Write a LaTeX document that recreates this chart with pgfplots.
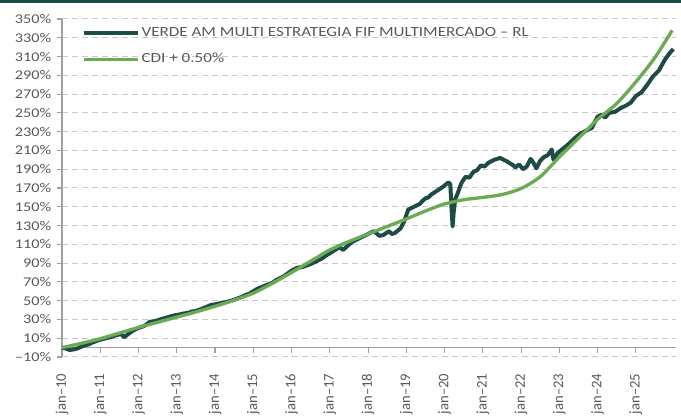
\documentclass[border=0pt]{standalone}
\usepackage{fontspec}
\setmainfont{Carlito}
\usepackage{graphicx}
\usepackage{pgfplots}
\pgfplotsset{compat=1.18}
\definecolor{darkteal}{HTML}{1F4B46}
\definecolor{cdigreen}{HTML}{6AAB54}
\definecolor{txtgray}{HTML}{595959}
\definecolor{gridgray}{HTML}{C8C8C8}
\definecolor{axgray}{HTML}{A0A0A0}
\newcommand\sx[1]{\scalebox{1.22}[1]{#1}}
\begin{document}
\begin{tikzpicture}[x=1pt,y=1pt]
\useasboundingbox (0,0) rectangle (510.75,312);
\fill[darkteal] (0,309.4) rectangle (510.75,312);
\begin{axis}[
  at={(46.5pt,44.25pt)}, anchor=south west,
  scale only axis, width=460.5pt, height=253.5pt,
  xmin=2010, xmax=2026.05, ymin=-10, ymax=350,
  axis y line=left, axis x line=middle,
  axis line style={-, axgray, line width=0.8pt},
  hide obscured x ticks=false,
  ytick={-10,10,30,50,70,90,110,130,150,170,190,210,230,250,270,290,310,330,350},
  yticklabels={{\sx{–10\%}},{\sx{10\%}},{\sx{30\%}},{\sx{50\%}},{\sx{70\%}},{\sx{90\%}},{\sx{110\%}},{\sx{130\%}},{\sx{150\%}},{\sx{170\%}},{\sx{190\%}},{\sx{210\%}},{\sx{230\%}},{\sx{250\%}},{\sx{270\%}},{\sx{290\%}},{\sx{310\%}},{\sx{330\%}},{\sx{350\%}}},
  xtick={2010,2011,2012,2013,2014,2015,2016,2017,2018,2019,2020,2021,2022,2023,2024,2025},
  xticklabels={jan–10,jan–11,jan–12,jan–13,jan–14,jan–15,jan–16,jan–17,jan–18,jan–19,jan–20,jan–21,jan–22,jan–23,jan–24,jan–25},
  ymajorgrids, grid style={gridgray, dash pattern=on 4.5pt off 3pt, line width=0.75pt},
  tick style={axgray, line width=0.8pt},
  tick align=outside, major tick length=4pt,
  tick label style={font=\fontsize{10}{12}\selectfont, text=txtgray},
  yticklabel style={xshift=-0.5pt},
  xticklabel style={rotate=90, anchor=east, font=\fontsize{11}{13}\selectfont},
  xticklabel shift=12pt,
  clip=false,
  legend style={at={(0.0315,0.985)}, anchor=north west, draw=none, fill=none,
    inner sep=0pt, row sep=7.5pt, font=\fontsize{10.5}{12}\selectfont, text=txtgray,
    nodes={inner xsep=1pt}},
  legend cell align=left,
  legend image code/.code={\draw[#1] (0pt,0pt) -- (41pt,0pt);},
]
\addplot[darkteal, line width=3pt, line join=round] coordinates {
(2010.00,0) (2010.10,-1) (2010.20,-2.5) (2010.30,-2.0) (2010.38,-1.2) (2010.45,0) (2010.60,2.5) (2010.70,3.5) (2010.80,5.5)
(2011.00,8.5) (2011.10,9.5) (2011.20,10.5) (2011.30,11.5) (2011.40,13) (2011.55,14.5) (2011.62,11) (2011.70,13.5)
(2011.85,18) (2012.00,21) (2012.15,23) (2012.30,27.5) (2012.40,28) (2012.50,29) (2012.60,30.5) (2012.70,31.5)
(2012.90,34) (2013.10,35.5) (2013.20,36.5) (2013.30,37) (2013.40,38.5) (2013.50,39) (2013.70,42) (2013.90,45.5)
(2014.00,46) (2014.10,47) (2014.30,48.5) (2014.50,51) (2014.70,54) (2014.80,56) (2014.90,57.5) (2015.10,62.5)
(2015.25,65) (2015.40,67.5) (2015.50,69) (2015.60,72) (2015.80,76) (2016.00,82) (2016.15,85)
(2016.30,86) (2016.40,87.5) (2016.50,89) (2016.70,93) (2016.80,95) (2016.90,98) (2017.10,103) (2017.25,107)
(2017.35,104) (2017.45,108) (2017.60,113) (2017.70,115) (2017.80,117) (2018.00,121) (2018.15,124)
(2018.30,119) (2018.40,120) (2018.55,124) (2018.62,121) (2018.70,122) (2018.85,127) (2018.95,135)
(2019.05,147) (2019.20,150) (2019.35,153) (2019.42,156) (2019.50,159) (2019.58,160) (2019.65,163) (2019.80,167)
(2019.95,171) (2020.10,176) (2020.15,174) (2020.18,150) (2020.21,129) (2020.24,145)
(2020.28,158) (2020.35,165) (2020.40,171) (2020.45,176) (2020.55,182) (2020.65,181) (2020.75,187)
(2020.85,189) (2020.95,194) (2021.05,193) (2021.15,197) (2021.30,200) (2021.45,202)
(2021.60,199) (2021.72,196) (2021.80,194) (2021.85,192) (2021.95,195) (2022.05,190) (2022.15,193)
(2022.25,201) (2022.32,197) (2022.40,191) (2022.50,199) (2022.60,203) (2022.70,205)
(2022.80,211) (2022.85,200) (2022.95,207) (2023.10,212) (2023.25,217) (2023.40,223)
(2023.55,228) (2023.70,231) (2023.85,234) (2024.00,246) (2024.10,248) (2024.20,245)
(2024.30,250) (2024.45,251) (2024.60,255) (2024.75,258) (2024.87,261) (2025.00,268)
(2025.15,272) (2025.30,280) (2025.45,289) (2025.60,295) (2025.75,306) (2025.87,313)
(2025.98,318)
};
\addlegendentry{\sx{VERDE AM MULTI ESTRATEGIA FIF MULTIMERCADO – RL}}
\addplot[cdigreen, line width=2.5pt, smooth, tension=0.5] coordinates {
(2010,0) (2010.5,4.5) (2011,9.5) (2011.5,15.5) (2012,21.5) (2012.5,27) (2013,32.5)
(2013.5,38) (2014,44) (2014.5,50.5) (2015,58) (2015.5,68.5) (2016,80) (2016.5,92)
(2017,104) (2017.5,113) (2018,121) (2018.5,129) (2019,137) (2019.5,145.5) (2020,153)
(2020.5,157.5) (2021,160) (2021.5,163) (2022,169.5) (2022.5,182) (2023,203)
(2023.5,223) (2024,243) (2024.5,260) (2025,283) (2025.5,309) (2025.95,338)
};
\addlegendentry{\sx{CDI + 0.50\%}}
\end{axis}
\end{tikzpicture}
\end{document}
